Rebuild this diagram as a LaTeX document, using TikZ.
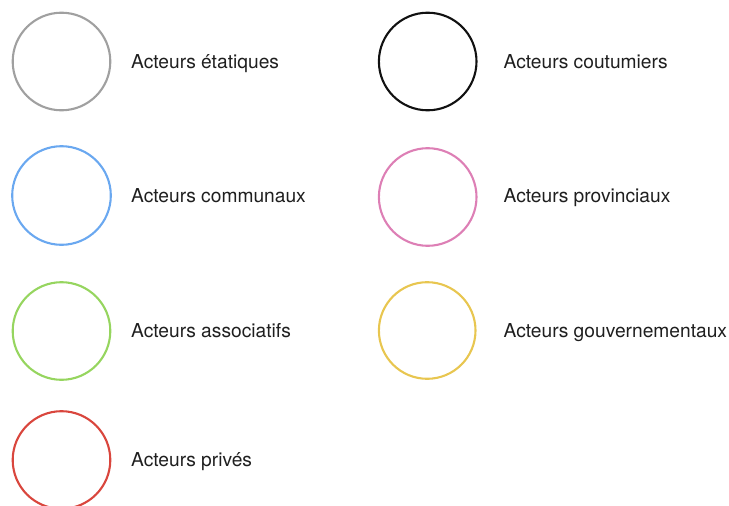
\documentclass[tikz,border=0pt]{standalone}
\usepackage{fontspec}
\setmainfont{TeX Gyre Heros}
\definecolor{cgray}{HTML}{A0A0A0}
\definecolor{cblack}{HTML}{111111}
\definecolor{cblue}{HTML}{6AA8F0}
\definecolor{cpink}{HTML}{DD7FB5}
\definecolor{cgreen}{HTML}{96D55F}
\definecolor{cyellow}{HTML}{E8C650}
\definecolor{cred}{HTML}{D9463D}
\tikzset{
  ring/.style={circle,draw=#1,line width=2.1pt,inner sep=0pt,anchor=center},
  lab/.style={anchor=base west,inner sep=0pt,font=\fontsize{19.2}{21}\selectfont,text=black!88}
}
\begin{document}
\begin{tikzpicture}[x=1pt,y=-1pt]
\useasboundingbox (0,0) rectangle (729,506);
\node[ring=cgray,minimum size=97.6pt] (a) at (61.5,61.5) {};
\node[ring=cblack,minimum size=97.6pt] (b) at (427.7,61.5) {};
\node[ring=cblue,minimum size=98.6pt] (c) at (61.5,195.5) {};
\node[ring=cpink,minimum size=97.6pt] (d) at (427.7,197) {};
\node[ring=cgreen,minimum size=97.6pt] (e) at (61.5,331) {};
\node[ring=cyellow,minimum size=96.6pt] (f) at (427.2,330.5) {};
\node[ring=cred,minimum size=97.6pt] (g) at (61.5,460) {};
\node[lab] (ta) at (131,68.8) {Acteurs étatiques};
\node[lab] (tb) at (503.5,68.8) {Acteurs coutumiers};
\node[lab] (tc) at (131,202.8) {Acteurs communaux};
\node[lab] (td) at (503.5,202.8) {Acteurs provinciaux};
\node[lab] (te) at (131,337.3) {Acteurs associatifs};
\node[lab] (tf) at (503.5,337.3) {Acteurs gouvernementaux};
\node[lab] (tg) at (131,466.8) {Acteurs privés};
\end{tikzpicture}
\end{document}
